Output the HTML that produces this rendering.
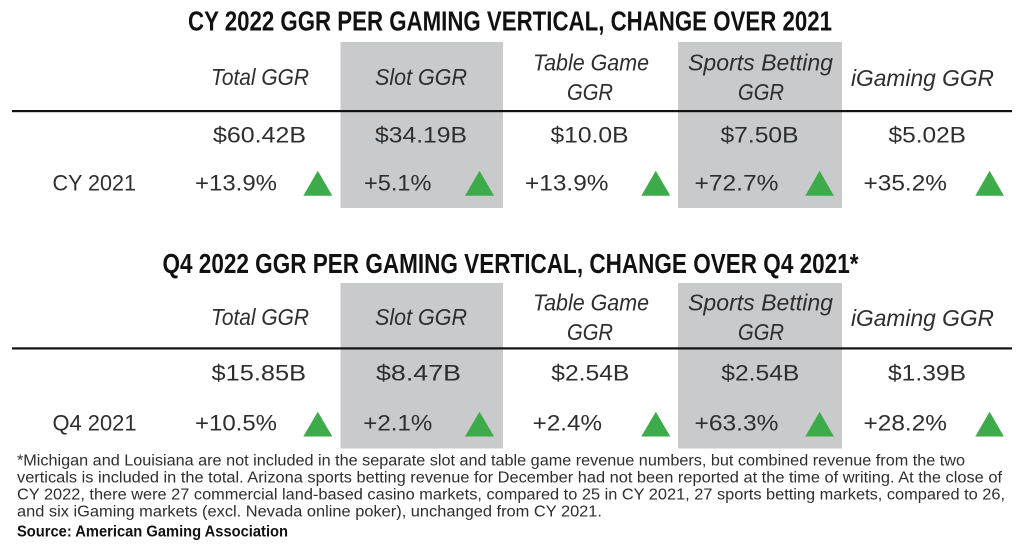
<!DOCTYPE html>
<html>
<head>
<meta charset="utf-8">
<style>
  html, body { margin:0; padding:0; background:#ffffff; }
  svg { display:block; }
  text { font-family: "Liberation Sans", Arial, sans-serif; fill:#2e2e2e; }
  .t { font-weight:bold; font-size:27.5px; fill:#111; }
  .h { font-style:italic; font-size:23px; }
  .v { font-size:22px; }
  .f { font-size:15.5px; }
  .s { font-size:15.5px; font-weight:bold; fill:#111; }
</style>
</head>
<body>
<svg width="1024" height="550" viewBox="0 0 1024 550" xmlns="http://www.w3.org/2000/svg">
  <rect x="0" y="0" width="1024" height="550" fill="#ffffff"/>

  <!-- ===== TOP TABLE ===== -->
  <rect x="340.5" y="42" width="162.5" height="166" fill="#c9cacc"/>
  <rect x="678" y="42" width="164" height="166" fill="#c9cacc"/>

  <text class="t" x="188" y="30.5" textLength="644" lengthAdjust="spacingAndGlyphs">CY 2022 GGR PER GAMING VERTICAL, CHANGE OVER 2021</text>

  <text class="h" x="211" y="85" textLength="98" lengthAdjust="spacingAndGlyphs">Total GGR</text>
  <text class="h" x="375" y="85" textLength="92" lengthAdjust="spacingAndGlyphs">Slot GGR</text>
  <text class="h" x="533" y="70.5" textLength="116" lengthAdjust="spacingAndGlyphs">Table Game</text>
  <text class="h" x="567" y="100" textLength="46" lengthAdjust="spacingAndGlyphs">GGR</text>
  <text class="h" x="688" y="70.5" textLength="145" lengthAdjust="spacingAndGlyphs">Sports Betting</text>
  <text class="h" x="738" y="100" textLength="46" lengthAdjust="spacingAndGlyphs">GGR</text>
  <text class="h" x="851" y="86" textLength="143" lengthAdjust="spacingAndGlyphs">iGaming GGR</text>

  <rect x="12" y="110" width="1000" height="2.2" fill="#111"/>

  <text class="v" x="213" y="142.5" textLength="93" lengthAdjust="spacingAndGlyphs">$60.42B</text>
  <text class="v" x="375" y="142.5" textLength="92" lengthAdjust="spacingAndGlyphs">$34.19B</text>
  <text class="v" x="550.5" y="142.5" textLength="78" lengthAdjust="spacingAndGlyphs">$10.0B</text>
  <text class="v" x="720.5" y="142.5" textLength="78" lengthAdjust="spacingAndGlyphs">$7.50B</text>
  <text class="v" x="888.5" y="142.5" textLength="77.5" lengthAdjust="spacingAndGlyphs">$5.02B</text>

  <text class="v" x="52.5" y="190.5" textLength="83.5" lengthAdjust="spacingAndGlyphs">CY 2021</text>
  <text class="v" x="195" y="190.5" textLength="82" lengthAdjust="spacingAndGlyphs">+13.9%</text>
  <text class="v" x="364" y="190.5" textLength="67.5" lengthAdjust="spacingAndGlyphs">+5.1%</text>
  <text class="v" x="525" y="190.5" textLength="83.5" lengthAdjust="spacingAndGlyphs">+13.9%</text>
  <text class="v" x="694.5" y="190.5" textLength="84" lengthAdjust="spacingAndGlyphs">+72.7%</text>
  <text class="v" x="863.5" y="190.5" textLength="83.5" lengthAdjust="spacingAndGlyphs">+35.2%</text>

  <g fill="#3dab49">
    <polygon points="303.3,195.7 332.3,195.7 317.8,170.7"/>
    <polygon points="465,195.7 494,195.7 479.5,170.7"/>
    <polygon points="641.3,195.7 670.3,195.7 655.8,170.7"/>
    <polygon points="805.3,195.7 833.9,195.7 819.6,170.7"/>
    <polygon points="975.3,195.7 1003.9,195.7 989.6,170.7"/>
  </g>

  <!-- ===== BOTTOM TABLE ===== -->
  <rect x="340.5" y="283" width="162.5" height="165.5" fill="#c9cacc"/>
  <rect x="678" y="283" width="164" height="165.5" fill="#c9cacc"/>

  <text class="t" x="162.5" y="273" textLength="696" lengthAdjust="spacingAndGlyphs">Q4 2022 GGR PER GAMING VERTICAL, CHANGE OVER Q4 2021*</text>

  <text class="h" x="211" y="325" textLength="98" lengthAdjust="spacingAndGlyphs">Total GGR</text>
  <text class="h" x="375" y="325" textLength="92" lengthAdjust="spacingAndGlyphs">Slot GGR</text>
  <text class="h" x="533" y="310.5" textLength="116" lengthAdjust="spacingAndGlyphs">Table Game</text>
  <text class="h" x="567" y="340" textLength="46" lengthAdjust="spacingAndGlyphs">GGR</text>
  <text class="h" x="688" y="310.5" textLength="145" lengthAdjust="spacingAndGlyphs">Sports Betting</text>
  <text class="h" x="738" y="340" textLength="46" lengthAdjust="spacingAndGlyphs">GGR</text>
  <text class="h" x="851" y="326" textLength="143" lengthAdjust="spacingAndGlyphs">iGaming GGR</text>

  <rect x="12" y="347.3" width="1000" height="2.2" fill="#111"/>

  <text class="v" x="211.5" y="380.5" textLength="94.5" lengthAdjust="spacingAndGlyphs">$15.85B</text>
  <text class="v" x="376" y="380.5" textLength="85" lengthAdjust="spacingAndGlyphs">$8.47B</text>
  <text class="v" x="551.3" y="380.5" textLength="78" lengthAdjust="spacingAndGlyphs">$2.54B</text>
  <text class="v" x="721.3" y="380.5" textLength="78" lengthAdjust="spacingAndGlyphs">$2.54B</text>
  <text class="v" x="888" y="380.5" textLength="78" lengthAdjust="spacingAndGlyphs">$1.39B</text>

  <text class="v" x="52.5" y="430.5" textLength="84" lengthAdjust="spacingAndGlyphs">Q4 2021</text>
  <text class="v" x="195" y="430.5" textLength="82" lengthAdjust="spacingAndGlyphs">+10.5%</text>
  <text class="v" x="363.3" y="430.5" textLength="69" lengthAdjust="spacingAndGlyphs">+2.1%</text>
  <text class="v" x="532.7" y="430.5" textLength="69.3" lengthAdjust="spacingAndGlyphs">+2.4%</text>
  <text class="v" x="694.5" y="430.5" textLength="84" lengthAdjust="spacingAndGlyphs">+63.3%</text>
  <text class="v" x="863.5" y="430.5" textLength="83.5" lengthAdjust="spacingAndGlyphs">+28.2%</text>

  <g fill="#3dab49">
    <polygon points="303.3,436.5 332.3,436.5 317.8,411.7"/>
    <polygon points="465,436.5 494,436.5 479.5,411.7"/>
    <polygon points="641.3,436.5 670.3,436.5 655.8,411.7"/>
    <polygon points="805.3,436.5 833.9,436.5 819.6,411.7"/>
    <polygon points="975.3,436.5 1003.9,436.5 989.6,411.7"/>
  </g>

  <!-- ===== FOOTNOTE ===== -->
  <text class="f" x="17" y="465.5" textLength="948" lengthAdjust="spacingAndGlyphs">*Michigan and Louisiana are not included in the separate slot and table game revenue numbers, but combined revenue from the two</text>
  <text class="f" x="17" y="482.5" textLength="985" lengthAdjust="spacingAndGlyphs">verticals is included in the total. Arizona sports betting revenue for December had not been reported at the time of writing. At the close of</text>
  <text class="f" x="17" y="499.5" textLength="988" lengthAdjust="spacingAndGlyphs">CY 2022, there were 27 commercial land-based casino markets, compared to 25 in CY 2021, 27 sports betting markets, compared to 26,</text>
  <text class="f" x="17" y="516.5" textLength="585" lengthAdjust="spacingAndGlyphs">and six iGaming markets (excl. Nevada online poker), unchanged from CY 2021.</text>
  <text class="s" x="17" y="536.5" textLength="271" lengthAdjust="spacingAndGlyphs">Source: American Gaming Association</text>
</svg>
</body>
</html>
